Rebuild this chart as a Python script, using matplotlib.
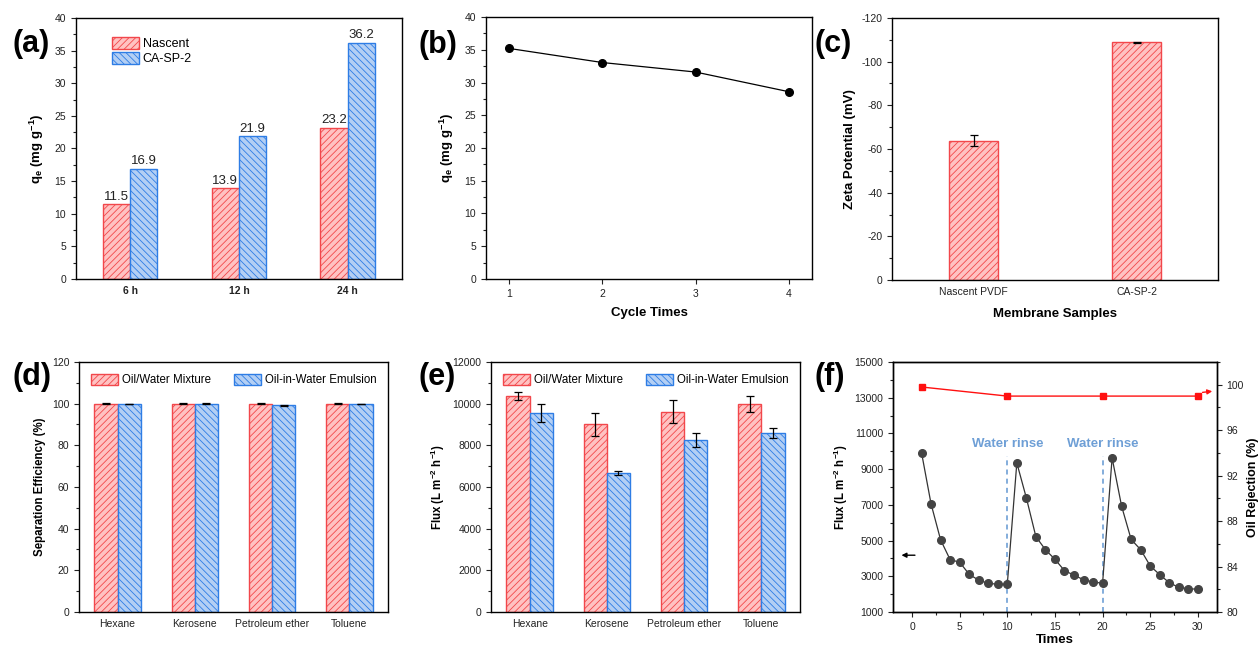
import numpy as np
import matplotlib
matplotlib.use("Agg")
import matplotlib.pyplot as plt
from matplotlib.ticker import MultipleLocator

plt.rcParams['font.family'] = ['Liberation Sans', 'DejaVu Sans']
plt.rcParams['hatch.linewidth'] = 0.6
plt.rcParams['axes.linewidth'] = 1.0
plt.rcParams['axes.unicode_minus'] = False
plt.rcParams['mathtext.fontset'] = 'custom'
plt.rcParams['mathtext.rm'] = 'Liberation Sans'
plt.rcParams['mathtext.bf'] = 'Liberation Sans:bold'
plt.rcParams['mathtext.default'] = 'bf'

# (a) adsorption capacity
times_a = ["6 h", "12 h", "24 h"]
qe_nascent = [11.5, 13.9, 23.2]
qe_casp2 = [16.9, 21.9, 36.2]

# (b) cycles
cycles = [1, 2, 3, 4]
qe_cycles = [35.2, 33.05, 31.6, 28.6]

# (c) zeta potential
membranes = ["Nascent PVDF", "CA-SP-2"]
zeta = [-63.8, -108.8]
zeta_err = [2.4, 0.3]

# (d), (e) separation
oils = ["Hexane", "Kerosene", "Petroleum ether", "Toluene"]
eff_mix = [99.9, 99.9, 99.9, 99.9]
eff_mix_err = [0.2, 0.2, 0.2, 0.2]
eff_emul = [99.8, 99.9, 99.2, 99.8]
eff_emul_err = [0.15, 0.2, 0.2, 0.15]
flux_mix = [10360, 9010, 9620, 9990]
flux_mix_err = [190, 560, 545, 380]
flux_emul = [9540, 6660, 8260, 8570]
flux_emul_err = [440, 100, 350, 240]

# (f) cycling flux / rejection
times_f = list(range(1, 31))
flux_f = [9920, 7050, 5040, 3930, 3790, 3110, 2780, 2610, 2550, 2550,
          9350, 7390, 5220, 4490, 3950, 3320, 3060, 2810, 2680, 2610,
          9630, 6920, 5060, 4490, 3580, 3090, 2640, 2380, 2310, 2270]
flux_ticks = [1000, 3000, 5000, 7000, 9000, 11000, 13000, 15000]
rej_times = [1, 10, 20, 30]
rej_vals = [99.8, 99.0, 99.0, 99.0]
rinse_times = [10, 20]

RED_E, RED_F = '#F2474B', '#FFC2C2'
BLU_E, BLU_F = '#2E7DE5', '#B3CFF4'
TICK_FS = 7.5
LAB_FS = 9.5
Q_LABEL = r'q$_e$ (mg g$^{-1}$)'
FLUX_LABEL = r'Flux (L m$^{-2}$ h$^{-1}$)'

fig = plt.figure(figsize=(12.6, 6.47), dpi=100)

def style(ax):
    ax.tick_params(which='both', direction='out', labelsize=TICK_FS, colors='#222222',
                   top=False, right=False)
    ax.tick_params(which='major', length=3.5, width=0.8)
    ax.tick_params(which='minor', length=2, width=0.8)

def panel_label(x, y, t):
    fig.text(x / 1260, 1 - y / 647, t, fontsize=22, fontweight='bold', va='center', ha='left')

# ---------- (a)
ax = fig.add_axes([0.0603, 0.5688, 0.2587, 0.4034])
x = np.arange(len(times_a))
w = 0.25
ax.bar(x - w / 2, qe_nascent, w, facecolor=RED_F, edgecolor=RED_E, hatch='/////', lw=1.0, label='Nascent')
ax.bar(x + w / 2, qe_casp2, w, facecolor=BLU_F, edgecolor=BLU_E, hatch='\\\\\\\\\\', lw=1.0, label='CA-SP-2')
for xi, v in zip(x - w / 2, qe_nascent):
    ax.text(xi, v + 0.2, f"{v}", ha='center', va='bottom', fontsize=9.5, color='#222222')
for xi, v in zip(x + w / 2, qe_casp2):
    ax.text(xi, v + 0.2, f"{v}", ha='center', va='bottom', fontsize=9.5, color='#222222')
ax.set_xlim(-0.5, 2.5)
ax.set_ylim(0, 40)
ax.yaxis.set_major_locator(MultipleLocator(5))
ax.yaxis.set_minor_locator(MultipleLocator(2.5))
ax.set_xticks(x)
ax.set_xticklabels(times_a, fontweight='bold')
style(ax)
ax.tick_params(axis='x', length=0, pad=5)
ax.set_ylabel(Q_LABEL, fontsize=LAB_FS, fontweight='bold', labelpad=6)
ax.legend(loc='upper left', bbox_to_anchor=(0.09, 0.95), frameon=False, fontsize=9,
          handlelength=2.2, handleheight=1.05, handletextpad=0.3, labelspacing=0.15, borderpad=0)
panel_label(12, 44, '(a)')

# ---------- (b)
ax = fig.add_axes([0.3857, 0.5688, 0.2587, 0.4049])
ax.plot(cycles, qe_cycles, color='black', lw=0.9, marker='o', ms=5.5, mfc='black', mec='black')
ax.set_xlim(0.75, 4.25)
ax.set_ylim(0, 40)
ax.set_xticks(cycles)
ax.yaxis.set_major_locator(MultipleLocator(5))
ax.yaxis.set_minor_locator(MultipleLocator(2.5))
style(ax)
ax.set_xlabel('Cycle Times', fontsize=LAB_FS, fontweight='bold', labelpad=6)
ax.set_ylabel(Q_LABEL, fontsize=LAB_FS, fontweight='bold', labelpad=6)
panel_label(418, 45, '(b)')

# ---------- (c)
ax = fig.add_axes([0.708, 0.5672, 0.2587, 0.405])
xc = np.arange(len(membranes))
ax.bar(xc, zeta, 0.3, facecolor=RED_F, edgecolor=RED_E, hatch='/////', lw=1.0,
       yerr=zeta_err, capsize=3, error_kw=dict(ecolor='black', elinewidth=0.9, capthick=0.9))
ax.set_xlim(-0.5, 1.5)
ax.set_ylim(0, -120)
ax.yaxis.set_major_locator(MultipleLocator(20))
ax.yaxis.set_minor_locator(MultipleLocator(10))
ax.set_xticks(xc)
ax.set_xticklabels(membranes)
style(ax)
ax.tick_params(axis='x', length=0, pad=5)
ax.set_xlabel('Membrane Samples', fontsize=LAB_FS, fontweight='bold', labelpad=8)
ax.set_ylabel('Zeta Potential (mV)', fontsize=LAB_FS, fontweight='bold', labelpad=4)
panel_label(815, 44, '(c)')

# ---------- (d) and (e)
def grouped(ax, v1, e1, v2, e2):
    xo = np.arange(len(oils))
    wd = 0.3
    ax.bar(xo - wd / 2, v1, wd, facecolor=RED_F, edgecolor=RED_E, hatch='/////', lw=1.0,
           yerr=e1, capsize=3, error_kw=dict(ecolor='black', elinewidth=0.9, capthick=0.9),
           label='Oil/Water Mixture')
    ax.bar(xo + wd / 2, v2, wd, facecolor=BLU_F, edgecolor=BLU_E, hatch='\\\\\\\\\\', lw=1.0,
           yerr=e2, capsize=3, error_kw=dict(ecolor='black', elinewidth=0.9, capthick=0.9),
           label='Oil-in-Water Emulsion')
    ax.set_xlim(-0.5, 3.5)
    ax.set_xticks(xo)
    ax.set_xticklabels(oils)
    style(ax)
    ax.tick_params(axis='x', length=0, pad=5)
    ax.legend(loc='upper center', bbox_to_anchor=(0.5, 0.985), ncol=2, frameon=False, fontsize=8.3,
              handlelength=2.35, handleheight=1.1, handletextpad=0.35, columnspacing=2.0, borderpad=0.2)

ax = fig.add_axes([0.0627, 0.0541, 0.2452, 0.3864])
grouped(ax, eff_mix, eff_mix_err, eff_emul, eff_emul_err)
ax.set_ylim(0, 120)
ax.yaxis.set_major_locator(MultipleLocator(20))
ax.yaxis.set_minor_locator(MultipleLocator(10))
ax.set_ylabel('Separation Efficiency (%)', fontsize=8.3, fontweight='bold', labelpad=4)
panel_label(12, 377, '(d)')

ax = fig.add_axes([0.3897, 0.0541, 0.2452, 0.3864])
grouped(ax, flux_mix, flux_mix_err, flux_emul, flux_emul_err)
ax.set_ylim(0, 12000)
ax.yaxis.set_major_locator(MultipleLocator(2000))
ax.yaxis.set_minor_locator(MultipleLocator(1000))
ax.set_ylabel(FLUX_LABEL, fontsize=8.3, fontweight='bold', labelpad=4)
panel_label(418, 377, '(e)')

# ---------- (f)
ax = fig.add_axes([0.7087, 0.0541, 0.2571, 0.3864])
ax.plot(times_f, flux_f, color='#333333', lw=0.9, marker='o', ms=5.5, mfc='#444444', mec='#444444', zorder=3)
for t in rinse_times:
    ax.plot([t, t], [1000, 9750], color='#6E9FD6', lw=1.2, ls=(0, (3, 2.5)), zorder=2)
    ax.text(t, 10050, 'Water rinse', ha='center', va='bottom', fontsize=9.5,
            fontweight='bold', color='#6E9FD6')
ax.annotate('', xy=(-1.4, 4180), xytext=(0.6, 4180),
            arrowprops=dict(arrowstyle='-|>', color='black', lw=1.0, mutation_scale=7))
ax.set_xlim(-2, 32)
ax.set_ylim(1000, 15000)
ax.xaxis.set_major_locator(MultipleLocator(5))
ax.xaxis.set_minor_locator(MultipleLocator(2.5))
ax.set_yticks(flux_ticks)
ax.yaxis.set_minor_locator(MultipleLocator(1000))
style(ax)
ax.set_xlabel('Times', fontsize=LAB_FS, fontweight='bold', labelpad=2)
ax.set_ylabel(FLUX_LABEL, fontsize=8.3, fontweight='bold', labelpad=3)

ax2 = ax.twinx()
ax2.plot(rej_times, rej_vals, color='#FF1010', lw=1.0, marker='s', ms=5, mfc='#FF1010', mec='#FF1010')
ax2.annotate('', xy=(31.8, 99.45), xytext=(30.2, 99.3),
             arrowprops=dict(arrowstyle='-|>', color='#FF1010', lw=1.0, mutation_scale=7))
ax2.set_ylim(80, 102)
ax2.yaxis.set_major_locator(MultipleLocator(4))
ax2.yaxis.set_minor_locator(MultipleLocator(2))
ax2.tick_params(which='both', direction='out', labelsize=TICK_FS, colors='#222222')
ax2.tick_params(which='major', length=3.5, width=0.8)
ax2.tick_params(which='minor', length=2, width=0.8)
ax2.set_ylabel('Oil Rejection (%)', fontsize=9, fontweight='bold', labelpad=2)
panel_label(815, 377, '(f)')

fig.savefig('out.png', dpi=100)
